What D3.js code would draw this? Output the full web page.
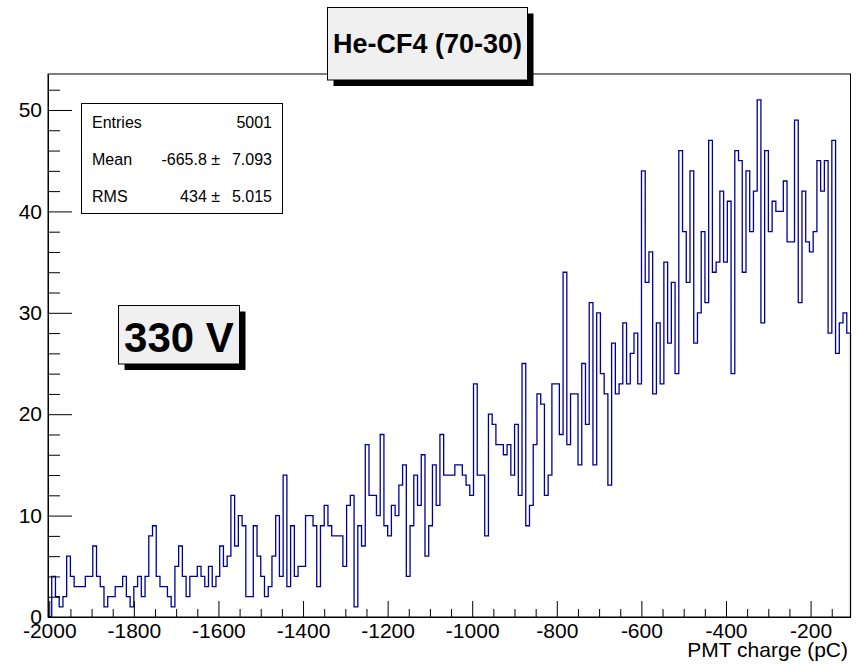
<!DOCTYPE html>
<html>
<head>
<meta charset="utf-8">
<script src="https://cdn.jsdelivr.net/npm/d3@7"></script>
<style>
  body { margin: 0; background: #fff; }
  svg { display: block; font-family: 'Liberation Sans', Arial, Helvetica, sans-serif; }
</style>
</head>
<body>
<div id="chart"></div>
<script>

// Bin contents, read left to right
const counts = [
  0,
  4,2,1,2,6,4,3,3,3,4,4,7,4,3,1,2,2,3,3,4,2,1,3,4,2,4,8,9,4,3,3,2,1,5,7,4,2,4,4,5,
  4,3,5,3,4,7,5,6,12,7,10,9,2,2,9,6,4,2,3,6,10,4,14,3,9,4,5,5,10,10,9,3,9,11,9,8,8,8,5,11,12,
  1,9,7,17,12,12,10,18,9,8,11,10,13,15,4,9,14,11,16,6,9,15,11,18,14,14,14,15,15,14,13,12,23,14,14,8,20,19,17,17,16,17,
  14,19,12,25,9,11,17,22,21,12,14,23,23,18,34,17,22,22,15,25,19,31,15,30,24,22,13,27,22,23,29,23,26,28,23,44,33,36,22,29,23,
  35,27,33,24,46,38,33,44,27,30,38,31,47,34,35,42,35,41,24,46,45,34,44,38,42,51,29,46,38,41,40,40,43,37,37,49,31,42,37,36,38,45,42,45,28,47,26,29,30,28
];

// Histogram range (pC)
const xMin = -2003;
const xMax = -105.6;

// Axis ticks
const xMajor = [-2000, -1800, -1600, -1400, -1200, -1000, -800, -600, -400, -200];
const yMajor = [0, 10, 20, 30, 40, 50];

// Texts
const titleText = 'He-CF4 (70-30)';
const voltText = '330 V';
const xTitle = 'PMT charge (pC)';
const statNames = ['Entries', 'Mean', 'RMS'];
const statValues = ['5001', '-665.8 \u00b1', '434 \u00b1'];
const statErrors = ['', '7.093', '5.015'];

// Page Dimensions
const W = 856, H = 665;
const frame = {left: 48, right: 850.5, top: 74, bottom: 617};
const lineColor = '#000099';
const boxFill = '#f0f0f0';

const svg = d3.select('#chart').append('svg')
  .attr('width', W)
  .attr('height', H);

svg.append('rect').attr('width', W).attr('height', H).attr('fill', '#fff');

const x = d3.scaleLinear().domain([xMin, xMax]).range([frame.left, frame.right]);
const yMax = 1.05 * d3.max(counts);
const y = d3.scaleLinear().domain([0, yMax]).range([frame.bottom, frame.top]);

const binW = (xMax - xMin) / counts.length;

// Histogram outline
let pts = [[xMin, 0]];
counts.forEach((c, i) => pts.push([xMin + i * binW, c]));
pts.push([xMax, counts[counts.length - 1]]);
pts.push([xMax, 0]);

const line = d3.line()
  .x(d => x(d[0]))
  .y(d => y(d[1]))
  .curve(d3.curveStepAfter);

svg.append('path')
  .datum(pts)
  .attr('d', line)
  .attr('fill', 'none')
  .attr('stroke', lineColor)
  .attr('stroke-width', 1.3);

// Frame
svg.append('rect')
  .attr('x', frame.left)
  .attr('y', frame.top)
  .attr('width', frame.right - frame.left)
  .attr('height', frame.bottom - frame.top)
  .attr('fill', 'none')
  .attr('stroke', '#000')
  .attr('stroke-width', 1);

// Minor ticks
const xMinor = d3.range(-2000, xMax, 50).filter(v => !xMajor.includes(v));
const yMinor = d3.range(0, yMax, 2).filter(v => !yMajor.includes(v));

svg.append('g')
  .attr('transform', `translate(0,${frame.bottom})`)
  .call(d3.axisBottom(x).tickValues(xMinor).tickSize(-8).tickSizeOuter(0).tickFormat(''))
  .call(g => g.select('.domain').remove());

svg.append('g')
  .attr('transform', `translate(${frame.left},0)`)
  .call(d3.axisLeft(y).tickValues(yMinor).tickSize(-12).tickSizeOuter(0).tickFormat(''))
  .call(g => g.select('.domain').remove());

// Major ticks + labels (plain hyphen minus, like the original)
const xAxis = svg.append('g')
  .attr('transform', `translate(0,${frame.bottom})`)
  .call(d3.axisBottom(x).tickValues(xMajor).tickSize(-16).tickSizeOuter(0).tickPadding(6).tickFormat(d => String(d)));

const yAxis = svg.append('g')
  .attr('transform', `translate(${frame.left},0)`)
  .call(d3.axisLeft(y).tickValues(yMajor).tickSize(-24).tickSizeOuter(0).tickPadding(6).tickFormat(d => String(d)));

[xAxis, yAxis].forEach(g => {
  g.select('.domain').attr('stroke', '#000');
  g.selectAll('text')
    .attr('fill', '#000')
    .style('font-size', '21px')
    .style('font-family', "'Liberation Sans', Arial, sans-serif");
});
svg.selectAll('.tick line').attr('stroke', '#000');

// X axis title
svg.append('text')
  .attr('x', 848)
  .attr('y', 657)
  .attr('text-anchor', 'end')
  .style('font-size', '21px')
  .text(xTitle);

// Box with shadow
function shadowBox(x0, y0, w, h, fill) {
  svg.append('rect')
    .attr('x', x0 + 6).attr('y', y0 + 6)
    .attr('width', w).attr('height', h)
    .attr('fill', '#000');
  svg.append('rect')
    .attr('x', x0).attr('y', y0)
    .attr('width', w).attr('height', h)
    .attr('fill', fill)
    .attr('stroke', '#000')
    .attr('stroke-width', 1);
}

// Title
shadowBox(327.5, 7.5, 200, 72.5, boxFill);
svg.append('text')
  .attr('x', 427.5)
  .attr('y', 53)
  .attr('text-anchor', 'middle')
  .style('font-size', '27px')
  .style('font-weight', 'bold')
  .text(titleText);

// Voltage label
shadowBox(118.5, 305.5, 121, 58.5, boxFill);
svg.append('text')
  .attr('x', 179)
  .attr('y', 351.5)
  .attr('text-anchor', 'middle')
  .style('font-size', '42px')
  .style('font-weight', 'bold')
  .text(voltText);

// Stats box
svg.append('rect')
  .attr('x', 81.5).attr('y', 103.5)
  .attr('width', 201).attr('height', 110)
  .attr('fill', '#fff')
  .attr('stroke', '#000')
  .attr('stroke-width', 1);

const statRows = svg.append('g').selectAll('g')
  .data(statNames)
  .enter()
  .append('g')
  .attr('transform', (d, i) => `translate(0,${128 + i * 37})`);

statRows.append('text')
  .attr('x', 92)
  .style('font-size', '16px')
  .text(d => d);

statRows.append('text')
  .attr('x', (d, i) => i === 0 ? 272 : 220)
  .attr('text-anchor', 'end')
  .style('font-size', '16px')
  .text((d, i) => statValues[i]);

statRows.append('text')
  .attr('x', 272)
  .attr('text-anchor', 'end')
  .style('font-size', '16px')
  .text((d, i) => statErrors[i]);

</script>
</body>
</html>
